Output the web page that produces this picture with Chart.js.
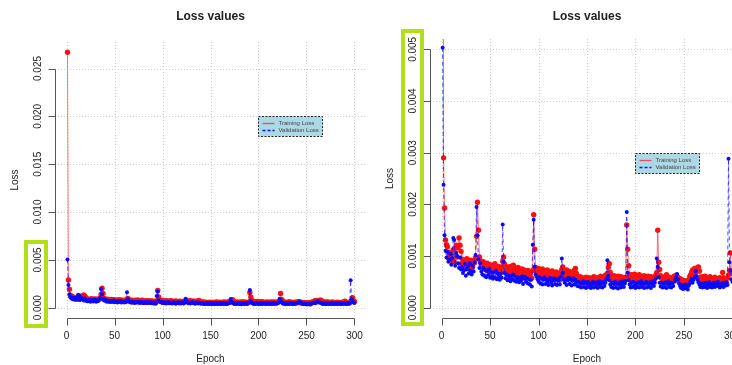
<!DOCTYPE html>
<html>
<head>
<meta charset="utf-8">
<title>Loss values</title>
<script src="https://cdn.jsdelivr.net/npm/chart.js@4.4.1/dist/chart.umd.min.js"></script>
<style>
  html, body { margin: 0; padding: 0; background: #fff; overflow: hidden; }
  #wrap { position: relative; width: 732px; height: 365px; overflow: hidden; }
  canvas { position: absolute; top: 0; }
  #full { left: 0; }
  #zoom { left: 370px; }
  .mark { position: absolute; border: 4px solid #b2df1a; box-sizing: border-box; }
</style>
</head>
<body>
<div id="wrap">
  <canvas id="full" width="370" height="365"></canvas>
  <canvas id="zoom" width="380" height="365"></canvas>
  <div class="mark" style="left:24px;top:240px;width:24px;height:88px"></div>
  <div class="mark" style="left:401px;top:29px;width:23px;height:297px"></div>
</div>
<script>
// loss per epoch (epochs 1..300)
const trainLoss = [
  0.0267, 0.0029, 0.00193, 0.00131, 0.00122, 0.00118, 0.00096, 0.00107, 0.00092, 0.00103,
  0.00094, 0.00112, 0.00089, 0.00115, 0.00121, 0.00098, 0.00117, 0.00135, 0.00121, 0.00109,
  0.00086, 0.00093, 0.00079, 0.00088, 0.00083, 0.00095, 0.00081, 0.00090, 0.00077, 0.00092,
  0.00085, 0.00079, 0.00091, 0.00087, 0.00096, 0.00138, 0.00204, 0.00150, 0.00098, 0.00091,
  0.00086, 0.00080, 0.00089, 0.00076, 0.00084, 0.00073, 0.00086, 0.00079, 0.00071, 0.00083,
  0.00075, 0.00069, 0.00082, 0.00072, 0.00085, 0.00070, 0.00079, 0.00067, 0.00080, 0.00073,
  0.00068, 0.00078, 0.00090, 0.00098, 0.00084, 0.00072, 0.00066, 0.00079, 0.00065, 0.00074,
  0.00080, 0.00064, 0.00072, 0.00082, 0.00068, 0.00063, 0.00076, 0.00069, 0.00078, 0.00062,
  0.00056, 0.00071, 0.00075, 0.00063, 0.00073, 0.00060, 0.00070, 0.00058, 0.00072, 0.00065,
  0.00060, 0.00069, 0.00057, 0.00072, 0.00180, 0.00113, 0.00078, 0.00069, 0.00065, 0.00076,
  0.00063, 0.00072, 0.00060, 0.00075, 0.00066, 0.00058, 0.00071, 0.00062, 0.00073, 0.00059,
  0.00068, 0.00056, 0.00067, 0.00071, 0.00058, 0.00065, 0.00055, 0.00069, 0.00061, 0.00057,
  0.00067, 0.00054, 0.00063, 0.00074, 0.00079, 0.00068, 0.00060, 0.00069, 0.00073, 0.00062,
  0.00058, 0.00070, 0.00063, 0.00056, 0.00068, 0.00060, 0.00072, 0.00076, 0.00066, 0.00061,
  0.00057, 0.00052, 0.00060, 0.00050, 0.00058, 0.00048, 0.00056, 0.00051, 0.00059, 0.00054,
  0.00047, 0.00058, 0.00052, 0.00046, 0.00057, 0.00050, 0.00060, 0.00053, 0.00048, 0.00058,
  0.00052, 0.00046, 0.00056, 0.00061, 0.00053, 0.00059, 0.00050, 0.00057, 0.00063, 0.00056,
  0.00066, 0.00078, 0.00085, 0.00068, 0.00060, 0.00055, 0.00052, 0.00062, 0.00050, 0.00058,
  0.00052, 0.00061, 0.00049, 0.00057, 0.00060, 0.00051, 0.00058, 0.00048, 0.00056, 0.00059,
  0.00160, 0.00113, 0.00081, 0.00063, 0.00057, 0.00064, 0.00055, 0.00062, 0.00065, 0.00056,
  0.00063, 0.00054, 0.00060, 0.00064, 0.00055, 0.00051, 0.00059, 0.00053, 0.00062, 0.00050,
  0.00058, 0.00052, 0.00061, 0.00049, 0.00057, 0.00060, 0.00051, 0.00058, 0.00053, 0.00060,
  0.00063, 0.00068, 0.00150, 0.00088, 0.00074, 0.00062, 0.00057, 0.00052, 0.00059, 0.00049,
  0.00055, 0.00064, 0.00056, 0.00050, 0.00059, 0.00053, 0.00049, 0.00058, 0.00052, 0.00061,
  0.00055, 0.00063, 0.00053, 0.00059, 0.00050, 0.00056, 0.00047, 0.00054, 0.00049, 0.00045,
  0.00052, 0.00044, 0.00050, 0.00043, 0.00054, 0.00060, 0.00064, 0.00069, 0.00073, 0.00066,
  0.00076, 0.00061, 0.00070, 0.00078, 0.00079, 0.00071, 0.00059, 0.00053, 0.00060, 0.00050,
  0.00057, 0.00061, 0.00051, 0.00058, 0.00048, 0.00054, 0.00060, 0.00050, 0.00056, 0.00047,
  0.00053, 0.00059, 0.00049, 0.00056, 0.00046, 0.00052, 0.00058, 0.00048, 0.00055, 0.00068,
  0.00058, 0.00049, 0.00056, 0.00047, 0.00057, 0.00063, 0.00072, 0.00106, 0.00071, 0.00066
];

const valLoss = [
  0.00503, 0.00238, 0.00140, 0.00110, 0.00097, 0.00108, 0.00089, 0.00093, 0.00104, 0.00083,
  0.00096, 0.00135, 0.00131, 0.00081, 0.00106, 0.00100, 0.00086, 0.00077, 0.00097, 0.00074,
  0.00078, 0.00067, 0.00072, 0.00085, 0.00062, 0.00074, 0.00080, 0.00066, 0.00086, 0.00071,
  0.00064, 0.00081, 0.00070, 0.00088, 0.00102, 0.00195, 0.00140, 0.00093, 0.00077, 0.00086,
  0.00070, 0.00064, 0.00077, 0.00062, 0.00073, 0.00059, 0.00071, 0.00063, 0.00075, 0.00058,
  0.00069, 0.00061, 0.00056, 0.00068, 0.00059, 0.00071, 0.00055, 0.00066, 0.00060, 0.00054,
  0.00065, 0.00058, 0.00161, 0.00089, 0.00067, 0.00057, 0.00064, 0.00053, 0.00062, 0.00056,
  0.00051, 0.00062, 0.00055, 0.00064, 0.00052, 0.00060, 0.00050, 0.00059, 0.00055, 0.00049,
  0.00058, 0.00052, 0.00061, 0.00046, 0.00056, 0.00060, 0.00050, 0.00057, 0.00047, 0.00055,
  0.00045, 0.00054, 0.00041, 0.00122, 0.00170, 0.00079, 0.00064, 0.00060, 0.00055, 0.00050,
  0.00059, 0.00047, 0.00056, 0.00045, 0.00054, 0.00059, 0.00046, 0.00055, 0.00050, 0.00044,
  0.00054, 0.00058, 0.00048, 0.00043, 0.00053, 0.00057, 0.00046, 0.00055, 0.00044, 0.00052,
  0.00056, 0.00045, 0.00060, 0.00095, 0.00067, 0.00054, 0.00048, 0.00055, 0.00044, 0.00053,
  0.00058, 0.00046, 0.00055, 0.00043, 0.00052, 0.00057, 0.00045, 0.00054, 0.00049, 0.00042,
  0.00050, 0.00041, 0.00048, 0.00039, 0.00047, 0.00051, 0.00040, 0.00049, 0.00038, 0.00046,
  0.00050, 0.00040, 0.00047, 0.00038, 0.00045, 0.00050, 0.00039, 0.00048, 0.00041, 0.00049,
  0.00038, 0.00046, 0.00051, 0.00040, 0.00047, 0.00039, 0.00050, 0.00042, 0.00048, 0.00055,
  0.00092, 0.00062, 0.00053, 0.00045, 0.00040, 0.00048, 0.00038, 0.00046, 0.00050, 0.00039,
  0.00047, 0.00037, 0.00045, 0.00049, 0.00039, 0.00046, 0.00051, 0.00040, 0.00047, 0.00052,
  0.00185, 0.00068, 0.00053, 0.00045, 0.00039, 0.00048, 0.00040, 0.00050, 0.00043, 0.00038,
  0.00047, 0.00040, 0.00049, 0.00039, 0.00046, 0.00051, 0.00040, 0.00047, 0.00038, 0.00046,
  0.00050, 0.00039, 0.00047, 0.00041, 0.00049, 0.00038, 0.00046, 0.00051, 0.00042, 0.00048,
  0.00056, 0.00095, 0.00079, 0.00059, 0.00048, 0.00041, 0.00048, 0.00039, 0.00047, 0.00040,
  0.00049, 0.00038, 0.00046, 0.00051, 0.00040, 0.00047, 0.00039, 0.00048, 0.00042, 0.00050,
  0.00053, 0.00059, 0.00065, 0.00055, 0.00047, 0.00042, 0.00038, 0.00044, 0.00036, 0.00043,
  0.00037, 0.00045, 0.00039, 0.00035, 0.00043, 0.00047, 0.00051, 0.00056, 0.00048, 0.00054,
  0.00059, 0.00071, 0.00061, 0.00054, 0.00049, 0.00045, 0.00040, 0.00047, 0.00039, 0.00046,
  0.00040, 0.00048, 0.00041, 0.00038, 0.00045, 0.00049, 0.00040, 0.00046, 0.00039, 0.00045,
  0.00048, 0.00040, 0.00047, 0.00042, 0.00050, 0.00043, 0.00039, 0.00046, 0.00041, 0.00048,
  0.00040, 0.00047, 0.00043, 0.00049, 0.00044, 0.00288, 0.00088, 0.00072, 0.00055, 0.00050
];

const xTicks = [0, 50, 100, 150, 200, 250, 300];
const yTicksFull = [0, 0.005, 0.010, 0.015, 0.020, 0.025];
const yLabelsFull = ['0.000', '0.005', '0.010', '0.015', '0.020', '0.025'];
const yTicksZoom = [0, 0.001, 0.002, 0.003, 0.004, 0.005];
const yLabelsZoom = ['0.000', '0.001', '0.002', '0.003', '0.004', '0.005'];
const seriesNames = ['Training Loss', 'Validation Loss'];

const FONT = '"Liberation Sans", Arial, Helvetica, sans-serif';

// base-graphics look: dotted grid, detached axes, vertical y labels, boxed legend
const rStyle = {
  id: 'rStyle',
  beforeDatasetsDraw(chart, args, o) {
    const { ctx, chartArea: a, scales: { x, y } } = chart;
    ctx.save();
    ctx.strokeStyle = '#cfcfcf';
    ctx.lineWidth = 1;
    ctx.setLineDash([1, 2]);
    ctx.beginPath();
    for (const t of xTicks) {
      const px = Math.round(x.getPixelForValue(t)) + 0.5;
      ctx.moveTo(px, a.top); ctx.lineTo(px, a.bottom);
    }
    for (const t of o.yTicks) {
      const py = Math.round(y.getPixelForValue(t)) + 0.5;
      ctx.moveTo(a.left, py); ctx.lineTo(a.right, py);
    }
    ctx.stroke();
    ctx.restore();
  },
  afterDatasetsDraw(chart, args, o) {
    const { ctx, scales: { x, y } } = chart;
    const bx = Math.round(x.getPixelForValue(o.legendAt[0])) + 0.5;
    const by = Math.round(y.getPixelForValue(o.legendAt[1])) + 0.5;
    const w = 64, h = 20;
    ctx.save();
    ctx.fillStyle = '#add8e6';
    ctx.fillRect(bx, by, w, h);
    ctx.strokeStyle = '#222';
    ctx.lineWidth = 1;
    ctx.setLineDash([2, 1.5]);
    ctx.strokeRect(bx, by, w, h);
    // sample lines
    ctx.lineWidth = 1.3;
    ctx.setLineDash([]);
    ctx.strokeStyle = 'rgba(240,60,60,0.85)';
    ctx.beginPath(); ctx.moveTo(bx + 4, by + 7); ctx.lineTo(bx + 16, by + 7); ctx.stroke();
    ctx.setLineDash([3, 2]);
    ctx.strokeStyle = '#1010ff';
    ctx.beginPath(); ctx.moveTo(bx + 4, by + 14); ctx.lineTo(bx + 16, by + 14); ctx.stroke();
    ctx.fillStyle = '#444';
    ctx.font = '6px ' + FONT;
    ctx.textBaseline = 'middle';
    ctx.fillText(seriesNames[0], bx + 20, by + 7);
    ctx.fillText(seriesNames[1], bx + 20, by + 14);
    ctx.restore();
  },
  afterDraw(chart, args, o) {
    const { ctx, chartArea: a, scales: { x, y } } = chart;
    ctx.save();
    ctx.strokeStyle = '#555';
    ctx.lineWidth = 1;
    // x axis
    const yb = a.bottom + 0.5;
    const x0 = Math.round(x.getPixelForValue(xTicks[0])) + 0.5;
    const x1 = Math.round(x.getPixelForValue(xTicks[xTicks.length - 1])) + 0.5;
    ctx.beginPath();
    ctx.moveTo(x0, yb); ctx.lineTo(x1, yb);
    for (const t of xTicks) {
      const px = Math.round(x.getPixelForValue(t)) + 0.5;
      ctx.moveTo(px, yb); ctx.lineTo(px, yb + 7);
    }
    // y axis
    const xl = a.left + 0.5;
    const y0 = Math.round(y.getPixelForValue(o.yTicks[0])) + 0.5;
    const y1 = Math.round(y.getPixelForValue(o.yTicks[o.yTicks.length - 1])) + 0.5;
    ctx.moveTo(xl, y0); ctx.lineTo(xl, y1);
    for (const t of o.yTicks) {
      const py = Math.round(y.getPixelForValue(t)) + 0.5;
      ctx.moveTo(xl, py); ctx.lineTo(xl - 7, py);
    }
    ctx.stroke();

    ctx.fillStyle = '#222';
    ctx.font = '10px ' + FONT;
    ctx.textAlign = 'center';
    ctx.textBaseline = 'middle';
    for (const t of xTicks) {
      ctx.fillText(String(t), x.getPixelForValue(t), a.bottom + 18);
    }
    ctx.fillText('Epoch', (a.left + a.right) / 2, a.bottom + 41);
    o.yTicks.forEach((t, i) => {
      ctx.save();
      ctx.translate(a.left - 17, y.getPixelForValue(t));
      ctx.rotate(-Math.PI / 2);
      ctx.fillText(o.yLabels[i], 0, 0);
      ctx.restore();
    });
    ctx.save();
    ctx.translate(a.left - 40, (a.top + a.bottom) / 2);
    ctx.rotate(-Math.PI / 2);
    ctx.fillText('Loss', 0, 0);
    ctx.restore();

    ctx.font = 'bold 12px ' + FONT;
    ctx.fillText('Loss values', (a.left + a.right) / 2, 17);
    ctx.restore();
  }
};

function makeChart(id, yMin, yMax, pad, yTicks, yLabels, legendAt) {
  const pts = arr => arr.map((v, i) => ({ x: i + 1, y: v }));
  return new Chart(document.getElementById(id), {
    type: 'line',
    data: {
      datasets: [
        {
          label: seriesNames[0],
          data: pts(trainLoss),
          order: 1,
          borderColor: 'rgba(255,40,40,0.7)',
          borderWidth: 0.9,
          pointRadius: 2.7,
          pointBorderWidth: 0,
          pointBackgroundColor: '#ff1010',
          tension: 0,
          clip: 0
        },
        {
          label: seriesNames[1],
          data: pts(valLoss),
          order: 0,
          borderColor: 'rgba(20,20,255,0.85)',
          borderWidth: 0.9,
          borderDash: [4, 3],
          pointRadius: 2,
          pointBorderWidth: 0,
          pointBackgroundColor: '#0a0aff',
          tension: 0,
          clip: 0
        }
      ]
    },
    options: {
      responsive: false,
      animation: false,
      events: [],
      layout: { padding: pad },
      plugins: {
        legend: { display: false },
        title: { display: false },
        tooltip: { enabled: false },
        rStyle: { yTicks, yLabels, legendAt }
      },
      scales: {
        x: { type: 'linear', min: -12, max: 312, display: false },
        y: { type: 'linear', min: yMin, max: yMax, display: false }
      }
    },
    plugins: [rStyle]
  });
}

makeChart('full', -0.00107, 0.02777, { left: 55, right: 0, top: 42, bottom: 47 },
  yTicksFull, yLabelsFull, [200, 0.020]);
makeChart('zoom', -0.0002, 0.0052, { left: 60, right: 6, top: 39, bottom: 47 },
  yTicksZoom, yLabelsZoom, [200, 0.003]);
</script>
</body>
</html>
